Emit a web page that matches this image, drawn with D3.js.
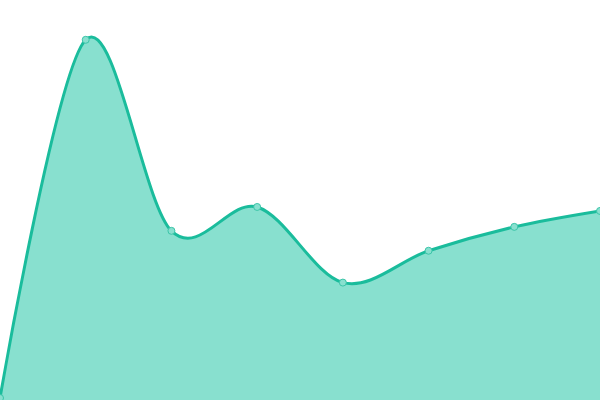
<!DOCTYPE html>
<html lang="en">
<head>
<meta charset="utf-8">
<script src="https://d3js.org/d3.v7.min.js"></script>
<style>
  html, body { margin: 0; padding: 0; background: #fff; }
  svg { display: block; }
</style>
</head>
<body>
<div id="chart"></div>
<script>
  var labels = ["1", "2", "3", "4", "5", "6", "7", "8"];
  var values = [0, 90, 42, 48, 29, 37, 43, 47];

  var width = 600, height = 400;

  var svg = d3.select("#chart")
    .append("svg")
      .attr("width", width)
      .attr("height", height);

  var x = d3.scalePoint()
    .domain(labels)
    .range([0, width]);

  var y = d3.scaleLinear()
    .domain([0, 100])
    .range([398, 0]);

  var curve = d3.curveCardinal.tension(0);

  var area = d3.area()
    .x(function(d, i) { return x(labels[i]); })
    .y0(height)
    .y1(function(d) { return y(d); })
    .curve(curve);

  var line = d3.line()
    .x(function(d, i) { return x(labels[i]); })
    .y(function(d) { return y(d); })
    .curve(curve);

  svg.append("path")
    .datum(values)
    .attr("d", area)
    .attr("fill", "#88e0cf");

  svg.append("path")
    .datum(values)
    .attr("d", line)
    .attr("fill", "none")
    .attr("stroke", "#1abc9c")
    .attr("stroke-width", 3);

  svg.selectAll("circle")
    .data(values)
    .enter()
    .append("circle")
      .attr("cx", function(d, i) { return x(labels[i]); })
      .attr("cy", function(d) { return y(d); })
      .attr("r", 3.5)
      .attr("fill", "#88e0cf")
      .attr("stroke", "#3cc5a9")
      .attr("stroke-width", 1);
</script>
</body>
</html>
